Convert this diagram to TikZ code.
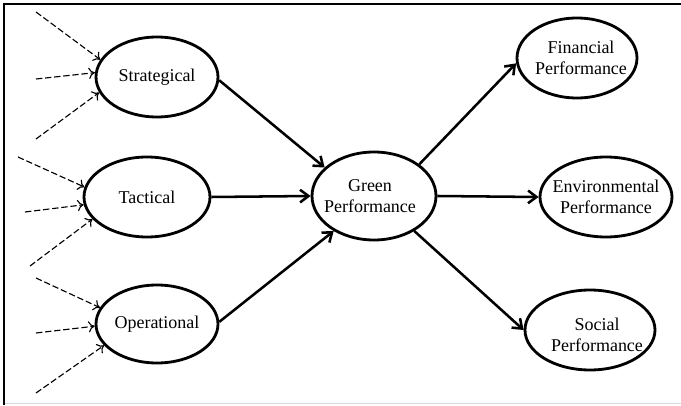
\documentclass[tikz,border=0pt]{standalone}
\usepackage{fontspec}
\setmainfont{Liberation Serif}
\usetikzlibrary{shapes.geometric,arrows.meta}

\tikzset{
  latent/.style={draw, ellipse, line width=2pt, minimum width=3.05cm, minimum height=2cm, inner sep=0pt},
  path/.style={line width=1.8pt, -{Straight Barb[length=6pt,width=9pt,line width=1.8pt]}},
  indicator/.style={line width=0.8pt, dash pattern=on 4.5pt off 2pt, -{To[length=4.5pt,width=8pt]}},
  lbl/.style={align=center, font=\fontsize{12.8}{15}\selectfont}
}

\begin{document}
\begin{tikzpicture}
	\useasboundingbox (0,0) rectangle (17.025,10.125);
	% Frame
	\draw[black!15, line width=1pt] (0.1,0.04) -- (17.025,0.04);
	\draw[line width=1.8pt] (0.1,0) -- (0.1,10.025) -- (17.025,10.025);

	% Dimensions
	\node[latent, label={[lbl]center:Strategical}] (strat) at (3.925,8.2) {};
	\node[latent, minimum width=3.15cm, label={[lbl]center:Tactical}] (tact) at (3.675,5.2) {};
	\node[latent, minimum height=1.95cm, label={[lbl]center:Operational}] (oper) at (3.925,2.025) {};

	% Green performance
	\node[latent, minimum width=3.1cm, minimum height=2.2cm, label={[lbl, xshift=-0.1cm]center:Green\\Performance}] (green) at (9.35,5.225) {};

	% Outcomes
	\node[latent, minimum width=3cm, label={[lbl, xshift=0.1cm]center:Financial\\Performance}] (fin) at (14.425,8.675) {};
	\node[latent, minimum width=3.3cm, label={[lbl]center:Environmental\\Performance}] (env) at (15.15,5.2) {};
	\node[latent, minimum width=3.25cm, label={[lbl, xshift=0.175cm, yshift=-0.12cm]center:Social\\Performance}] (soc) at (14.75,1.875) {};

	% Indicators
	\coordinate (s1) at (0.9,9.825);
	\coordinate (s2) at (0.9,8.15);
	\coordinate (s3) at (0.9,6.65);
	\coordinate (t1) at (0.45,6.2);
	\coordinate (t2) at (0.625,4.825);
	\coordinate (t3) at (0.75,3.475);
	\coordinate (o1) at (0.9,3.175);
	\coordinate (o2) at (0.9,1.8);
	\coordinate (o3) at (0.9,0.3);
	\draw[indicator] (s1) -- (strat.163);
	\draw[indicator] (s2) -- (strat.176);
	\draw[indicator] (s3) -- (strat.195);
	\draw[indicator] (t1) -- (tact.171);
	\draw[indicator] (t2) -- (tact.187);
	\draw[indicator] (t3) -- (tact.202);
	\draw[indicator] (o1) -- (oper.164);
	\draw[indicator] (o2) -- (oper.182);
	\draw[indicator] (o3) -- (oper.202);

	% Paths
	\draw[path] (strat.-3) -- (green.150);
	\draw[path] (tact.east) -- (green.west);
	\draw[path] (oper.2) -- (green.221);
	\draw[path] (green.35) -- (fin.185);
	\draw[path] (green.east) -- (env.west);
	\draw[path] (green.-41) -- (soc.west);
\end{tikzpicture}
\end{document}
